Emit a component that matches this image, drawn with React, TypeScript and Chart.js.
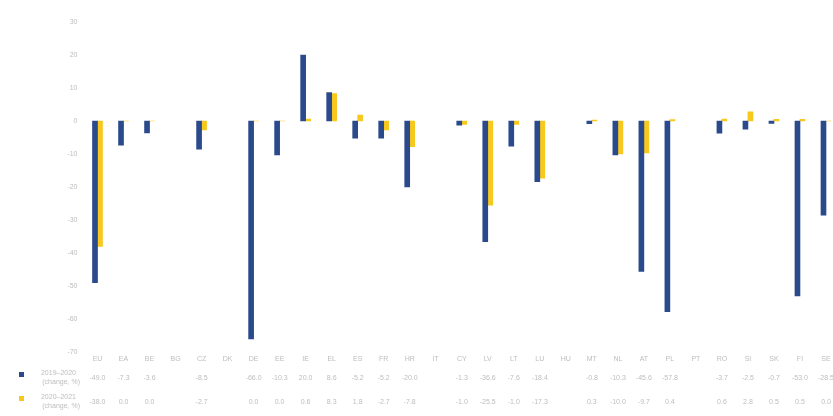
import React, { useEffect, useRef } from "react";
import { Chart, registerables } from "chart.js";

Chart.register(...registerables);

const categories = ["EU","EA","BE","BG","CZ","DK","DE","EE","IE","EL","ES","FR","HR","IT","CY","LV","LT","LU","HU","MT","NL","AT","PL","PT","RO","SI","SK","FI","SE"];
const seriesNames = [["2019–2020", "(change, %)"], ["2020–2021", "(change, %)"]];
const series1 = [-49, -7.3, -3.6, null, -8.5, null, -66, -10.3, 20, 8.6, -5.2, -5.2, -20, null, -1.3, -36.6, -7.6, -18.4, null, -0.8, -10.3, -45.6, -57.8, null, -3.7, -2.5, -0.7, -53, -28.5];
const series2 = [-38, 0, 0, null, -2.7, null, 0, 0, 0.6, 8.3, 1.8, -2.7, -7.8, null, -1.0, -25.5, -1.0, -17.3, null, 0.3, -10, -9.7, 0.4, null, 0.6, 2.8, 0.5, 0.5, 0];
const yMin = -70;
const yMax = 30;
const yStep = 10;

const BLUE = "#2a4a8c";
const YELLOW = "#f7c81e";
const TEXT = "#bdbdbd";

const tablePlugin = {
  id: "dataTable",
  afterDraw(chart: any) {
    const ctx = chart.ctx;
    const xs = chart.scales.x;
    ctx.save();
    ctx.font = "7px 'Liberation Sans', Arial, sans-serif";
    ctx.fillStyle = TEXT;
    ctx.textBaseline = "middle";
    const rows = [series1, series2];
    const rowY = [378, 402];
    const colors = [BLUE, YELLOW];
    rows.forEach((row, r) => {
      ctx.fillStyle = colors[r];
      ctx.fillRect(19, rowY[r] - 6, 5, 5);
      ctx.fillStyle = TEXT;
      ctx.textAlign = "right";
      ctx.fillText(seriesNames[r][0], 76, rowY[r] - 5);
      ctx.fillText(seriesNames[r][1], 80, rowY[r] + 4);
      ctx.textAlign = "center";
      row.forEach((v, i) => {
        if (v === null) return;
        const x = xs.getPixelForValue(i);
        ctx.fillText(v.toFixed(1), x, rowY[r]);
      });
    });
    ctx.restore();
  },
};

export default function App() {
  const ref = useRef<HTMLCanvasElement>(null);
  useEffect(() => {
    const chart = new Chart(ref.current as HTMLCanvasElement, {
      type: "bar",
      data: {
        labels: categories,
        datasets: [
          { label: seriesNames[0].join(" "), data: series1 as any, backgroundColor: BLUE, barThickness: 5 },
          { label: seriesNames[1].join(" "), data: series2 as any, backgroundColor: YELLOW, barThickness: 5 },
        ],
      },
      options: {
        animation: false,
        responsive: false,
        maintainAspectRatio: false,
        layout: { padding: { top: 22, right: 0, left: 0, bottom: 0 } },
        plugins: { legend: { display: false }, tooltip: { enabled: false } },
        scales: {
          x: {
            grid: { display: false, drawTicks: false },
            border: { display: false },
            ticks: {
              color: TEXT,
              font: { size: 7, family: "'Liberation Sans', Arial, sans-serif" },
              padding: 3,
              maxRotation: 0,
              autoSkip: false,
            },
            afterFit: (s: any) => { s.height = 64; },
          },
          y: {
            min: yMin,
            max: yMax,
            grid: { display: false, drawTicks: false },
            border: { display: false },
            ticks: {
              stepSize: yStep,
              color: TEXT,
              font: { size: 7, family: "'Liberation Sans', Arial, sans-serif" },
              padding: 7,
            },
            afterFit: (s: any) => { s.width = 84.5; },
          },
        },
      },
      plugins: [tablePlugin],
    });
    return () => chart.destroy();
  }, []);
  return (
    <div style={{ position: "fixed", left: 0, top: 0, width: 833, height: 416, overflow: "hidden", background: "#fff" }}>
      <canvas ref={ref} width={839} height={416} style={{ display: "block" }} />
    </div>
  );
}
